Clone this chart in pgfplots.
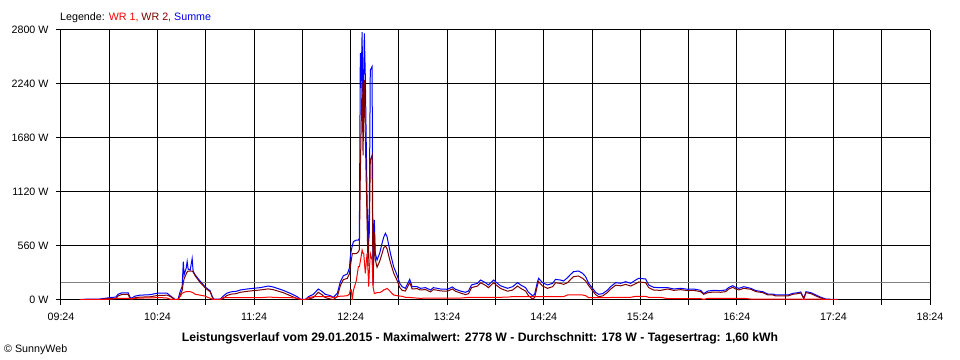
\documentclass[border=0pt]{standalone}
\usepackage{pgfplots}
\pgfplotsset{compat=1.18}
\usepackage{pgfplotstable}
\usepackage{fontspec}
\setmainfont{Liberation Sans}
\definecolor{wrone}{RGB}{255,0,0}
\definecolor{wrtwo}{RGB}{128,0,0}
\definecolor{summe}{RGB}{0,0,255}
\definecolor{avg}{RGB}{128,128,128}
\newcommand{\chartfont}{\fontsize{10.7bp}{12bp}\selectfont}
\newcommand{\titlefont}{\fontsize{12.2bp}{14bp}\selectfont\bfseries}

\pgfplotstableread{
m wr1 wr2 sum
576 3 2 5
579 5 3 8
588 6 4 10
594.5 8 17 25
598 17 13 30
599.5 17 43 60
602 17 58 75
605.7 17 58 75
607 15 10 25
608 12 8 20
610 17 23 40
613 20 30 50
619.4 22 33 55
623.7 24 46 70
626.8 24 48 72
630 20 50 70
631.8 8 37 45
635 3 2 5
636.8 5 5 10
638 35 50 85
639.3 70 100 140
640 75 180 397
640.5 80 220 260
641.8 86 270 330
642.4 86 290 400
643 86 300 320
644.3 86 300 310
645.5 80 300 430
646.1 75 290 300
647.4 60 250 260
650.5 50 180 195
652.3 45 150 160
653.6 40 125 135
655.5 25 100 110
656.7 18 85 95
657.9 8 32 40
658.9 7 3 10
662.9 7 3 10
664.8 24 16 40
667 24 46 70
669.8 24 61 85
672.9 24 66 90
675.4 24 80 104
679.7 24 90 114
683.4 24 97 121
687.8 24 104 128
692.8 30 115 145
695.9 28 107 135
702.1 24 76 100
706.5 24 45 69
710.8 20 14 34
712.7 8 2 10
715.8 3 2 5
717.7 25 9 34
720.8 34 25 59
723.9 34 80 114
726.4 34 52 86
728.2 34 25 59
731.4 34 11 45
733.2 24 4 28
735.7 34 35 69
737.6 40 150 190
739.4 40 210 250
741.9 45 225 270
743.2 60 269 329
743.8 104 346 450
744.4 104 414 518
745 0 480 560
745.7 100 480 605
747.5 200 480 622
748.8 345 500 622
749.4 345 520 640
750 400 1300 2560
750.5 450 1800 2200
751.1 518 2250 2778
751.7 484 1500 1866
752.1 484 2000 2300
752.5 400 2280 2766
753.1 277 1700 2316
754.2 484 800 1037
754.8 300 350 487
755.2 138 600 800
755.6 300 700 968
756.2 484 1450 2385
757.3 415 1500 2420
757.9 138 150 176
758.7 69 700 830
759.3 70 420 484
760.4 76 340 415
762 76 400 484
763.5 90 480 588
764.5 104 540 650
765.6 110 560 692
766.6 121 530 657
768.7 86 390 484
770.7 52 280 345
772.8 45 205 259
774.5 41 130 173
776 38 100 138
778 28 93 121
780.7 26 180 214
782.2 24 114 138
785.3 20 118 138
787.3 17 104 121
790.5 20 108 128
793.6 20 84 104
795.4 20 108 128
797.9 20 101 121
799.8 20 94 114
804.1 20 91 111
807.2 20 115 135
809.1 20 91 111
812.2 20 73 93
815.3 24 56 80
817.2 28 65 93
819.1 28 128 156
822.8 28 145 173
824.7 28 179 207
827.8 28 152 180
829.6 28 128 156
832.8 28 179 207
835.2 28 145 173
837.1 28 120 148
841.5 30 91 121
844.6 35 103 138
847.7 35 145 180
849.6 35 121 156
852.7 35 93 128
854.5 35 45 80
857 35 10 45
858.3 35 24 59
860.1 35 155 190
860.8 35 190 225
863.2 35 145 180
866.3 35 121 156
869.5 35 138 173
871.3 35 179 214
874.4 35 172 207
876.3 35 162 197
878.8 52 180 232
880.7 52 214 266
882.5 52 242 294
885.6 52 249 301
888.1 52 225 277
890 45 197 242
891.9 24 149 173
894.3 24 97 121
896.2 24 56 80
898.1 24 35 59
900.6 24 42 66
903.7 24 80 104
905.5 26 112 138
908.7 26 154 180
911.8 26 147 173
914.9 28 162 190
918 28 145 173
921.1 38 169 207
923 38 187 225
927.3 38 180 218
929.2 28 128 156
932.3 28 103 131
936.6 28 100 128
941 14 114 128
944.7 14 100 114
949.1 14 107 121
953.4 14 97 111
957.2 14 100 114
961.5 14 86 100
963.4 7 59 66
965.9 17 76 93
969.6 17 83 100
974 17 80 97
977.1 17 87 104
979 17 114 131
981.4 17 131 148
983.3 17 114 131
985.2 17 104 121
988.3 17 121 138
992.6 10 111 121
995.8 10 87 97
1000.1 10 76 86
1003.2 10 52 62
1006.3 10 52 62
1008.2 10 42 52
1012.6 10 42 52
1015.7 10 42 52
1018.8 10 59 69
1021.9 10 66 76
1023.7 10 73 83
1025.6 5 12 17
1026.9 10 76 86
1030 10 66 76
1033.1 10 42 52
1036.2 8 20 28
1039.3 3 7 10
1042.4 2 5 7
1046.8 2 5 7
}\powerdata

\begin{document}
\begin{tikzpicture}
\path[use as bounding box, fill=white] (0bp,0bp) rectangle (960bp,360bp);
\begin{axis}[
  at={(61bp,60bp)}, anchor=south west,
  scale only axis, width=869bp, height=270bp,
  xmin=564, xmax=1104, ymin=0, ymax=2800,
  axis lines=left,
  axis line style={-, line width=1bp, black},
  xtick={564,594,...,1104},
  xticklabels={09:24,,10:24,,11:24,,12:24,,13:24,,14:24,,15:24,,16:24,,17:24,,18:24},
  ytick={0,560,1120,1680,2240,2800},
  yticklabels={0 W,560 W,1120 W,1680 W,2240 W,2800 W},
  grid=major,
  major grid style={black, line width=1bp},
  tick align=outside,
  major tick length=5bp,
  tick style={black, line width=1bp},
  every tick label/.append style={font=\chartfont, text=black},
  xticklabel style={yshift=-5bp},
  yticklabel style={xshift=-4bp},
]
\addplot[avg, line width=1bp] coordinates {(564,178) (1104,178)};
\addplot[summe, line width=1bp] table[x=m, y=sum] {\powerdata};
\addplot[wrtwo, line width=1bp] table[x=m, y=wr2] {\powerdata};
\addplot[wrone, line width=1bp] table[x=m, y=wr1] {\powerdata};
\end{axis}
\node[anchor=base west, inner sep=0pt, font=\chartfont] at (60bp,339bp)
  {Legende: \textcolor{wrone}{WR 1,} \textcolor{wrtwo}{WR 2,} \textcolor{summe}{Summe}};
\node[anchor=base, inner sep=0pt, font=\titlefont] at (480bp,19bp)
  {Leistungsverlauf vom 29.01.2015 - Maximalwert: 2778 W - Durchschnitt: 178 W - Tagesertrag: 1,60 kWh};
\node[anchor=base west, inner sep=0pt, font=\chartfont] at (4bp,8bp)
  {\textcopyright\ SunnyWeb};
\end{tikzpicture}
\end{document}
